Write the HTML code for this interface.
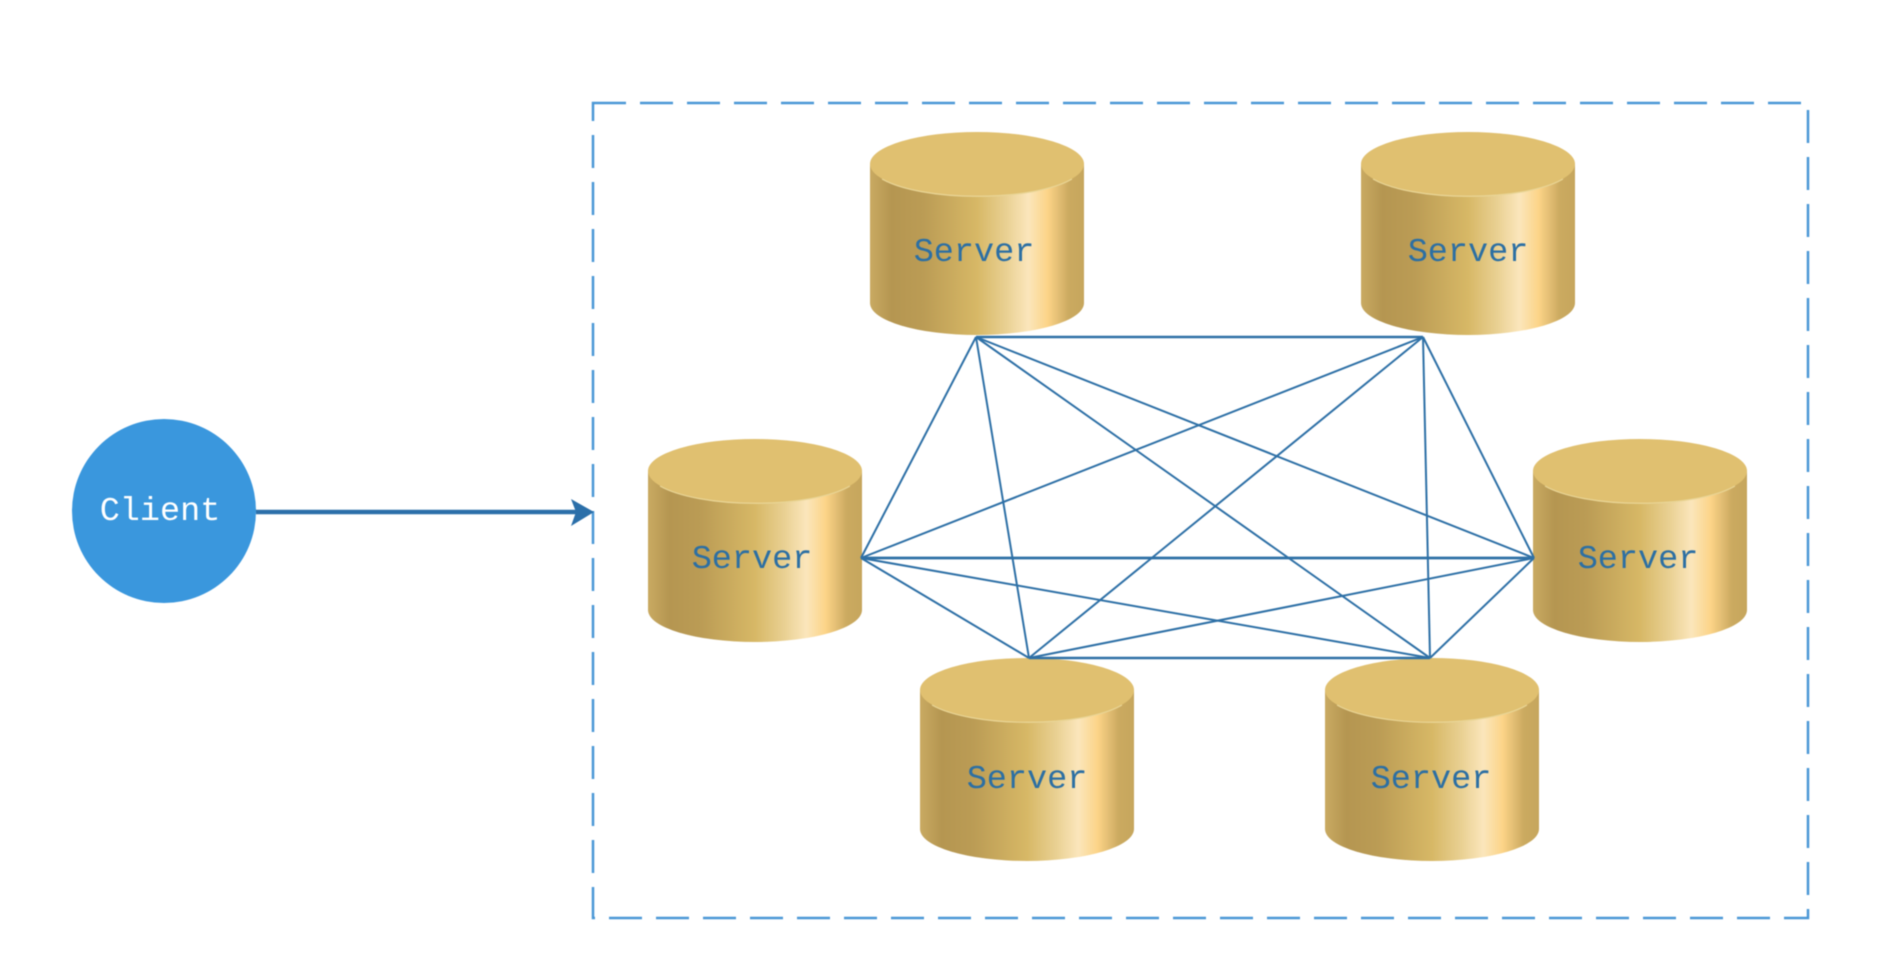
<!DOCTYPE html>
<html lang="en">
<head>
<meta charset="utf-8">
<title>Client and Server cluster diagram</title>
<style>
html,body{margin:0;padding:0;background:#fff;width:1878px;height:978px;overflow:hidden}
svg{display:block;filter:blur(.55px)}
text{font-family:"Liberation Mono","DejaVu Sans Mono",monospace;font-size:33.5px;text-anchor:middle}
</style>
</head>
<body>
<svg width="1878" height="978" viewBox="0 0 1878 978" xmlns="http://www.w3.org/2000/svg">
<defs>
<linearGradient id="g" x1="0" x2="1" y1="0" y2="0">
<stop offset="0" stop-color="#c9aa62"/>
<stop offset=".1" stop-color="#b59651"/>
<stop offset=".25" stop-color="#bb9c55"/>
<stop offset=".5" stop-color="#d7b866"/>
<stop offset=".63" stop-color="#e8cf90"/>
<stop offset=".74" stop-color="#fbe6bb"/>
<stop offset=".83" stop-color="#fcd488"/>
<stop offset=".93" stop-color="#cbaa60"/>
<stop offset="1" stop-color="#c6a65d"/>
</linearGradient>
<g id="cyl">
<path d="M0,32 V171 A107,32 0 0 0 214,171 V32 Z" fill="url(#g)"/>
<ellipse cx="107" cy="32" rx="107" ry="32" fill="#e0c070"/>
<path d="M12,47 A107,32 0 0 0 202,47" fill="none" stroke="#e9d596" stroke-width="1.2"/>
</g>
</defs>

<rect x="593" y="103" width="1215" height="815" fill="none" stroke="#4a97d6" stroke-width="2.5" stroke-dasharray="33 14"/>

<circle cx="164" cy="511" r="92" fill="#3a97dd"/>
<text x="160" y="520" fill="#fff">Client</text>

<line x1="256" y1="512" x2="585" y2="512" stroke="#2b6fa9" stroke-width="4.5"/>
<path d="M571,499 L594,512 L571,526 L576,512 Z" fill="#2b6fa9"/>

<use href="#cyl" x="870" y="132"/>
<use href="#cyl" x="1361" y="132"/>
<use href="#cyl" x="648" y="439"/>
<use href="#cyl" x="1533" y="439"/>
<use href="#cyl" x="920" y="658"/>
<use href="#cyl" x="1325" y="658"/>

<g stroke="#2e70a6" stroke-width="2" fill="none">
<line x1="976" y1="337" x2="1423" y2="337" stroke-width="2.6"/>
<line x1="976" y1="337" x2="861" y2="558"/>
<line x1="976" y1="337" x2="1534" y2="558"/>
<line x1="976" y1="337" x2="1029" y2="658"/>
<line x1="976" y1="337" x2="1430" y2="658"/>
<line x1="1423" y1="337" x2="861" y2="558"/>
<line x1="1423" y1="337" x2="1534" y2="558"/>
<line x1="1423" y1="337" x2="1029" y2="658"/>
<line x1="1423" y1="337" x2="1430" y2="658"/>
<line x1="861" y1="558" x2="1534" y2="558" stroke-width="2.8"/>
<line x1="861" y1="558" x2="1029" y2="658"/>
<line x1="861" y1="558" x2="1430" y2="658"/>
<line x1="1534" y1="558" x2="1029" y2="658"/>
<line x1="1534" y1="558" x2="1430" y2="658"/>
<line x1="1029" y1="658" x2="1430" y2="658" stroke-width="2.6"/>
</g>

<g fill="#2c6fa3">
<text x="974" y="261">Server</text>
<text x="1468" y="261">Server</text>
<text x="752" y="568">Server</text>
<text x="1638" y="568">Server</text>
<text x="1027" y="788">Server</text>
<text x="1431" y="788">Server</text>
</g>
</svg>
</body>
</html>
